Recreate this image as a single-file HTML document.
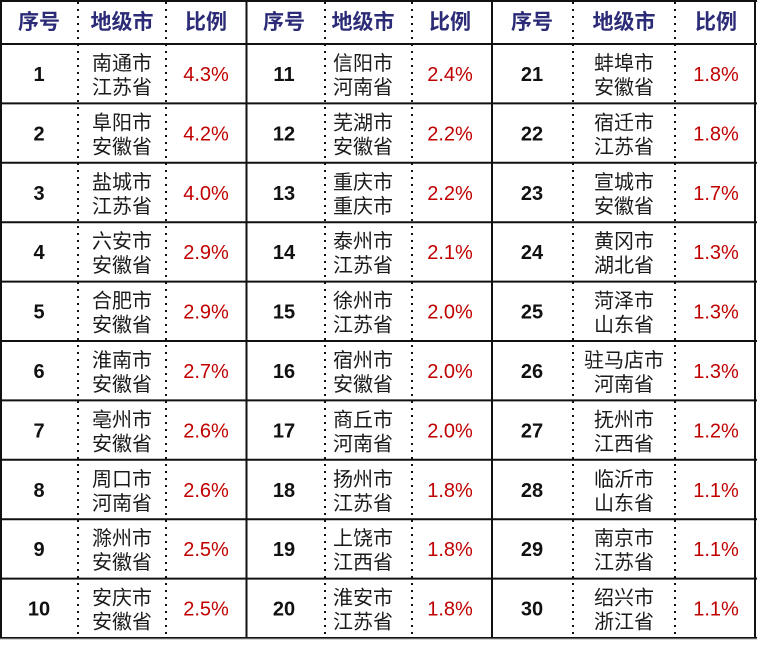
<!DOCTYPE html>
<html><head><meta charset="utf-8"><style>
html,body{margin:0;padding:0;background:#fff;}
svg{display:block}
.h{font-family:"Liberation Sans","Noto Sans CJK SC",sans-serif;font-weight:bold;font-size:21px;fill:#2b2b78}
.n{font-family:"Liberation Sans",sans-serif;font-weight:bold;font-size:20px;fill:#111}
.c{font-family:"Liberation Sans","Noto Sans CJK SC",sans-serif;font-size:20px;fill:#1a1a1a}
.p{font-family:"Liberation Sans",sans-serif;font-size:20px;fill:#c00000}
</style></head><body>
<svg id="s" width="757" height="646" xmlns="http://www.w3.org/2000/svg"></svg>
<script>
(function(){
var d=[["南通市","江苏省","4.3%"],["阜阳市","安徽省","4.2%"],["盐城市","江苏省","4.0%"],["六安市","安徽省","2.9%"],["合肥市","安徽省","2.9%"],["淮南市","安徽省","2.7%"],["亳州市","安徽省","2.6%"],["周口市","河南省","2.6%"],["滁州市","安徽省","2.5%"],["安庆市","安徽省","2.5%"],
["信阳市","河南省","2.4%"],["芜湖市","安徽省","2.2%"],["重庆市","重庆市","2.2%"],["泰州市","江苏省","2.1%"],["徐州市","江苏省","2.0%"],["宿州市","安徽省","2.0%"],["商丘市","河南省","2.0%"],["扬州市","江苏省","1.8%"],["上饶市","江西省","1.8%"],["淮安市","江苏省","1.8%"],
["蚌埠市","安徽省","1.8%"],["宿迁市","江苏省","1.8%"],["宣城市","安徽省","1.7%"],["黄冈市","湖北省","1.3%"],["菏泽市","山东省","1.3%"],["驻马店市","河南省","1.3%"],["抚州市","江西省","1.2%"],["临沂市","山东省","1.1%"],["南京市","江苏省","1.1%"],["绍兴市","浙江省","1.1%"]];
var g=[[39,122,206],[284,363,450],[532,624,716]];
var dots=[78,166,325,412,573,675];
var s='';
var T=44,rh=59.4,B=638;
for(var i=0;i<=10;i++){var y=(T+i*rh).toFixed(1);s+='<line x1="0" x2="757" y1="'+y+'" y2="'+y+'" stroke="#111" stroke-width="2"/>';}
s+='<line x1="0" x2="757" y1="1" y2="1" stroke="#111" stroke-width="2"/>';
s+='<line x1="0" x2="757" y1="'+(B+1)+'" y2="'+(B+1)+'" stroke="#aaa" stroke-width="1"/>';
[1,246.5,492,755].forEach(function(x){s+='<line x1="'+x+'" x2="'+x+'" y1="0" y2="'+B+'" stroke="#111" stroke-width="2"/>';});
dots.forEach(function(x){s+='<line x1="'+x+'" x2="'+x+'" y1="2" y2="'+B+'" stroke="#111" stroke-width="2" stroke-dasharray="2,5"/>';});
g.forEach(function(c){s+='<text class="h" x="'+c[0]+'" y="29" text-anchor="middle">序号</text><text class="h" x="'+c[1]+'" y="29" text-anchor="middle">地级市</text><text class="h" x="'+c[2]+'" y="29" text-anchor="middle">比例</text>';});
for(var k=0;k<30;k++){var c=g[Math.floor(k/10)],r=k%10,yy=T+r*rh,e=d[k];
s+='<text class="n" x="'+c[0]+'" y="'+(yy+37)+'" text-anchor="middle">'+(k+1)+'</text>';
s+='<text class="c" x="'+c[1]+'" y="'+(yy+26)+'" text-anchor="middle">'+e[0]+'</text><text class="c" x="'+c[1]+'" y="'+(yy+50)+'" text-anchor="middle">'+e[1]+'</text>';
s+='<text class="p" x="'+c[2]+'" y="'+(yy+37)+'" text-anchor="middle">'+e[2]+'</text>';}
document.getElementById('s').innerHTML=s;
})();
</script>
</body></html>
